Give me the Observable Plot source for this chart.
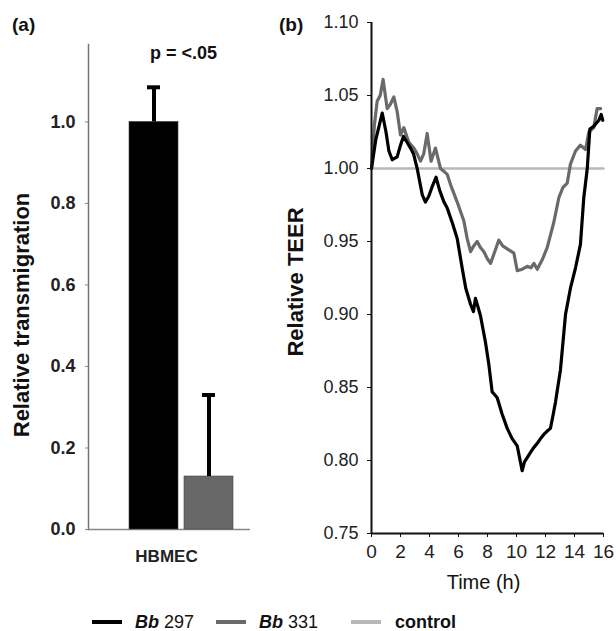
<!DOCTYPE html>
<html><head><meta charset="utf-8">
<script src="https://cdn.jsdelivr.net/npm/d3@7"></script>
<script src="https://cdn.jsdelivr.net/npm/@observablehq/plot@0.6"></script>
<style>
body{margin:0;background:#fff;font-family:"Liberation Sans",Arial,sans-serif;}
#wrap{position:relative;width:616px;height:631px;overflow:hidden;background:#fff;}
#a,#b{position:absolute;top:0;}
#a{left:0px}#b{left:240px}
.plabel{position:absolute;font-weight:bold;font-size:19px;color:#111;line-height:20px;}
.sw{position:absolute;height:4px;width:30px;}
.tx{position:absolute;font-size:18px;color:#111;line-height:20px;white-space:nowrap;}
</style></head>
<body><div id="wrap">
<div id="a"></div><div id="b"></div>
<div class="plabel" style="left:12px;top:15px">(a)</div>
<div class="plabel" style="left:279px;top:15px">(b)</div>
<div id="legend"></div>
</div>
<script>
// ---- Panel (a) data ----
const groups = ["Bb 297", "Bb 331"];
const transmigration = [1.0, 0.13];
const transmigrationErr = [0.085, 0.20];
const groupColors = ["#000000", "#686868"];
const ticksA = [0, 0.2, 0.4, 0.6, 0.8, 1.0];

// ---- Panel (b) data ----
const timeBb297 = [0,0.3,0.74,1.0,1.2,1.43,1.77,2.0,2.2,2.45,2.69,2.9,3.15,3.5,3.72,3.95,4.2,4.45,4.7,5.0,5.22,5.6,5.91,6.25,6.5,6.83,7.03,7.17,7.35,7.52,7.86,8.09,8.32,8.5,8.67,9.0,9.36,9.7,10.05,10.25,10.39,10.55,10.74,11.0,11.2,11.45,11.66,11.9,12.1,12.34,12.5,12.69,13.03,13.38,13.72,14.07,14.41,14.64,14.88,15.06,15.33,15.68,15.84,15.95];
const teerBb297 = [1.000,1.020,1.038,1.025,1.012,1.006,1.008,1.016,1.022,1.018,1.014,1.010,1.000,0.982,0.977,0.981,0.988,0.994,0.985,0.977,0.973,0.962,0.952,0.932,0.918,0.907,0.902,0.911,0.905,0.899,0.881,0.866,0.847,0.845,0.843,0.832,0.822,0.815,0.810,0.800,0.793,0.799,0.802,0.806,0.809,0.812,0.815,0.818,0.820,0.822,0.830,0.840,0.862,0.900,0.918,0.932,0.948,0.980,1.000,1.027,1.029,1.033,1.037,1.033];
const timeBb331 = [0,0.2,0.39,0.6,0.8,1.08,1.3,1.54,1.77,2.0,2.23,2.57,2.92,3.15,3.38,3.6,3.84,4.11,4.41,4.76,5.0,5.22,5.45,5.91,6.37,6.6,6.83,7.05,7.29,7.5,7.75,8.0,8.21,8.5,8.78,9.05,9.36,9.82,10.05,10.4,10.74,11.0,11.2,11.43,11.8,12.12,12.57,12.92,13.2,13.5,13.72,14.07,14.41,14.76,14.99,15.33,15.56,15.8];
const teerBb331 = [1.000,1.030,1.046,1.050,1.061,1.041,1.044,1.049,1.039,1.023,1.028,1.018,1.014,1.010,1.005,1.010,1.024,1.005,1.014,1.000,0.998,0.996,0.989,0.977,0.964,0.952,0.943,0.947,0.950,0.946,0.943,0.938,0.935,0.943,0.951,0.947,0.945,0.942,0.930,0.931,0.933,0.932,0.935,0.931,0.938,0.946,0.963,0.980,0.987,0.990,1.003,1.012,1.016,1.013,1.025,1.028,1.041,1.041];
const timeControl = [0, 16];
const teerControl = [1.00, 1.00];
const ticksTeer = [0.75, 0.80, 0.85, 0.90, 0.95, 1.00, 1.05, 1.10];
const ticksTime = [0, 2, 4, 6, 8, 10, 12, 14, 16];

const seriesNames = ["Bb 297", "Bb 331", "control"];
const seriesColors = ["#000000", "#6a6a6a", "#b8b8b8"];

// ---- Build tables ----
const barData = groups.map((g, i) => ({group: g, value: transmigration[i], err: transmigrationErr[i]}));
const bb297 = timeBb297.map((t, i) => ({t, v: teerBb297[i]}));
const bb331 = timeBb331.map((t, i) => ({t, v: teerBb331[i]}));
const ctrl = timeControl.map((t, i) => ({t, v: teerControl[i]}));

const font = "Liberation Sans, Arial, sans-serif";

const plotA = Plot.plot({
  width: 255, height: 569,
  marginLeft: 88, marginRight: 5, marginTop: 44, marginBottom: 40,
  style: {fontFamily: font, fontSize: "18px", color: "#111", background: "transparent", overflow: "visible"},
  x: {domain: groups, paddingInner: 0.107, paddingOuter: 0.5, align: 0.714, axis: null},
  y: {domain: [0, 1.19], axis: null},
  color: {domain: groups, range: groupColors},
  marks: [
    Plot.frame({anchor: "left", stroke: "#777", strokeWidth: 1.5}),
    Plot.ruleY([0], {stroke: "#888", strokeWidth: 1.5}),
    Plot.barY(barData, {x: "group", y: "value", fill: "group", stroke: "#444", strokeWidth: 0.6}),
    Plot.ruleX(barData, {x: "group", y1: "value", y2: d => d.value + d.err, stroke: "#000", strokeWidth: 4}),
    Plot.tickY(barData, {x: "group", y: d => d.value + d.err, stroke: "#000", strokeWidth: 4, insetLeft: 18, insetRight: 18}),
    Plot.axisY({ticks: ticksA, tickFormat: d3.format(".1f"), tickSize: 3, tickPadding: 10, fontSize: 18, fontWeight: "bold", fill: "#222", stroke: "#888", label: null}),
    Plot.text(["p = <.05"], {frameAnchor: "top", dx: 14, dy: 2, fontSize: 18, fontWeight: "bold", fill: "#111"}),
    Plot.text(["HBMEC"], {frameAnchor: "bottom", dx: -3, dy: 32, fontSize: 17, fontWeight: "bold", fill: "#222"}),
    Plot.text(["Relative transmigration"], {frameAnchor: "left", textAnchor: "middle", rotate: -90, dx: -67, dy: 28, fontSize: 22, fontWeight: "bold", fill: "#111"})
  ]
});
document.getElementById("a").appendChild(plotA);

const plotB = Plot.plot({
  width: 376, height: 593,
  marginLeft: 131, marginRight: 13, marginTop: 22, marginBottom: 60,
  style: {fontFamily: font, fontSize: "18px", color: "#111", background: "transparent", overflow: "visible"},
  x: {domain: [0, 16], axis: null},
  y: {domain: [0.75, 1.10], axis: null},
  marks: [
    Plot.line(ctrl, {x: "t", y: "v", stroke: seriesColors[2], strokeWidth: 2.5}),
    Plot.line(bb331, {x: "t", y: "v", stroke: seriesColors[1], strokeWidth: 3.2}),
    Plot.line(bb297, {x: "t", y: "v", stroke: seriesColors[0], strokeWidth: 3.2}),
    Plot.ruleX([0], {stroke: "#111", strokeWidth: 2}),
    Plot.ruleY([0.75], {stroke: "#111", strokeWidth: 2}),
    Plot.axisY({ticks: ticksTeer, tickFormat: d3.format(".2f"), tickSize: 4, tickPadding: 9, fontSize: 18, fill: "#222", stroke: "#111", label: null}),
    Plot.axisX({ticks: ticksTime, tickFormat: d3.format("d"), tickSize: 4, tickPadding: 7, fontSize: 19, fill: "#222", stroke: "#111", label: null}),
    Plot.text(["Time (h)"], {frameAnchor: "bottom", dx: -4, dy: 55, fontSize: 20, fill: "#111"}),
    Plot.text(["Relative TEER"], {frameAnchor: "left", textAnchor: "middle", rotate: -90, dx: -76, dy: 4, fontSize: 22, fontWeight: "bold", fill: "#111"})
  ]
});
document.getElementById("b").appendChild(plotB);

// ---- Legend ----
const legend = document.getElementById("legend");
const swLeft = [92, 216, 351];
const txLeft = [135, 259, 395];
seriesNames.forEach((name, i) => {
  const sw = document.createElement("div");
  sw.className = "sw";
  sw.style.left = swLeft[i] + "px";
  sw.style.top = "620px";
  sw.style.background = seriesColors[i];
  legend.appendChild(sw);
  const tx = document.createElement("div");
  tx.className = "tx";
  tx.style.left = txLeft[i] + "px";
  tx.style.top = "612px";
  if (name.startsWith("Bb ")) {
    tx.innerHTML = "<b><i>Bb</i></b> " + name.slice(3);
  } else {
    tx.innerHTML = "<b>" + name + "</b>";
  }
  legend.appendChild(tx);
});
</script>
</body></html>
